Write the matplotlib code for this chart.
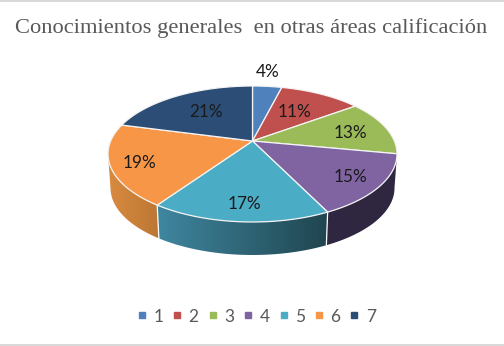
import numpy as np
import matplotlib
matplotlib.use("Agg")
import matplotlib.pyplot as plt
from matplotlib.colors import to_rgb
from matplotlib.lines import Line2D
from matplotlib.patches import Rectangle, Polygon

categories = ["1", "2", "3", "4", "5", "6", "7"]
shares = [4, 11, 13, 15, 17, 19, 21]
colors = ["#4f81bd", "#c0504d", "#9bbb59", "#8064a2", "#4bacc6", "#f79646", "#2c4d75"]
title = "Conocimientos generales  en otras áreas calificación"

# layout (pixel space)
CX, CY, RX, RY = 252.5, 154.0, 144.5, 68.0
APEX_DY = -13.0
TILT = 0.47
SKEW = 0.025
BX, BY, BRX, BRY = 252.5, 188.0, 142.0, 67.0
label_xy = [(268, 72), (294, 112), (350, 133), (350, 177), (244, 204), (139, 163), (206, 112)]
side_shade = {3: ("#2f2642", "#30263f"),
              4: ("#3f87a0", "#20454f"),
              5: ("#d98a40", "#bc7734")}

fig = plt.figure(figsize=(5.04, 3.46), dpi=100)
ax = fig.add_axes([0, 0, 1, 1])
ax.axis("off")


def rim_angle(theta):
    """Ellipse parameter of the rim point hit by a ray from the apex."""
    dx = np.sin(theta) + SKEW * (1 - np.cos(theta)) / 2
    dy = -TILT * np.cos(theta)
    a = (dx / RX) ** 2 + (dy / RY) ** 2
    b = 2 * APEX_DY * dy / RY ** 2
    c = (APEX_DY / RY) ** 2 - 1
    s = (-b + np.sqrt(b * b - 4 * a * c)) / (2 * a)
    x, y = s * dx, APEX_DY + s * dy
    return np.arctan2(x / RX, -y / RY) % (2 * np.pi)


def top_pt(t):
    return CX + RX * np.sin(t), CY - RY * np.cos(t)


def bot_pt(t):
    return BX + BRX * np.sin(t), BY - BRY * np.cos(t)


edges = np.cumsum([0] + shares) / sum(shares) * 2 * np.pi
bounds = [rim_angle(e) for e in edges[:-1]] + [2 * np.pi]

# side walls: horizontal gradient clipped to the wall outline
for i, (c0, c1) in side_shade.items():
    t0 = max(bounds[i], np.pi / 2)
    t1 = min(bounds[i + 1], 3 * np.pi / 2)
    ts = np.linspace(t0, t1, 120)
    tx, ty = top_pt(ts)
    bx, by = bot_pt(ts[::-1])
    outline = np.column_stack([np.r_[tx, bx], np.r_[ty, by]])
    lo, hi = outline[:, 0].min(), outline[:, 0].max()
    a, b = np.array(to_rgb(c0)), np.array(to_rgb(c1))
    grad = (a + (b - a) * np.linspace(0, 1, 256)[:, None])[None, :, :]
    im = ax.imshow(grad, extent=(lo, hi, outline[:, 1].max(), outline[:, 1].min()),
                   aspect="auto", interpolation="bilinear", zorder=2)
    clip = Polygon(outline, closed=True, transform=ax.transData, facecolor="none", edgecolor="none")
    ax.add_patch(clip)
    im.set_clip_path(clip)

# separators on the wall
for i in (4, 5):
    x0, y0 = top_pt(bounds[i])
    x1, y1 = bot_pt(bounds[i])
    ax.plot([x0, x1], [y0, y1], color="white", lw=0.9, zorder=3)

# top surface
for i, col in enumerate(colors):
    ts = np.linspace(bounds[i], bounds[i + 1], 80)
    rx_, ry_ = top_pt(ts)
    pts = [(CX, CY + APEX_DY)] + list(zip(rx_, ry_))
    ax.add_patch(Polygon(pts, closed=True, facecolor=col, edgecolor="#f4f4f4",
                         lw=0.9, joinstyle="round", zorder=4))

# data labels
for (x, y), v in zip(label_xy, shares):
    ax.text(x, y, f"{v}%", ha="center", va="center", family="Lato", fontsize=12.3,
            color="#1a1a1a", zorder=6)

ax.text(251, 28, title, ha="center", va="center", family="Liberation Serif",
        fontsize=16.2, color="#595959")

handles = [Line2D([], [], linestyle="none", marker="s", markersize=5, color=c, label=n)
           for c, n in zip(colors, categories)]
ax.legend(handles=handles, ncols=7, frameon=False, loc="center", bbox_to_anchor=(254.5 / 504, 1 - 316.5 / 346),
          prop={"family": "Lato", "size": 12.5}, labelcolor="#595959",
          handlelength=1.0, handletextpad=0.15, columnspacing=0.31, borderpad=0)

# outer frame bands
ax.add_patch(Rectangle((0, 0), 504, 2, facecolor="#d9d9d9", edgecolor="none", zorder=1))
ax.add_patch(Rectangle((0, 344), 504, 2, facecolor="#d9d9d9", edgecolor="none", zorder=1))

ax.set_xlim(0, 504)
ax.set_ylim(346, 0)
fig.savefig("out.png", dpi=100)
